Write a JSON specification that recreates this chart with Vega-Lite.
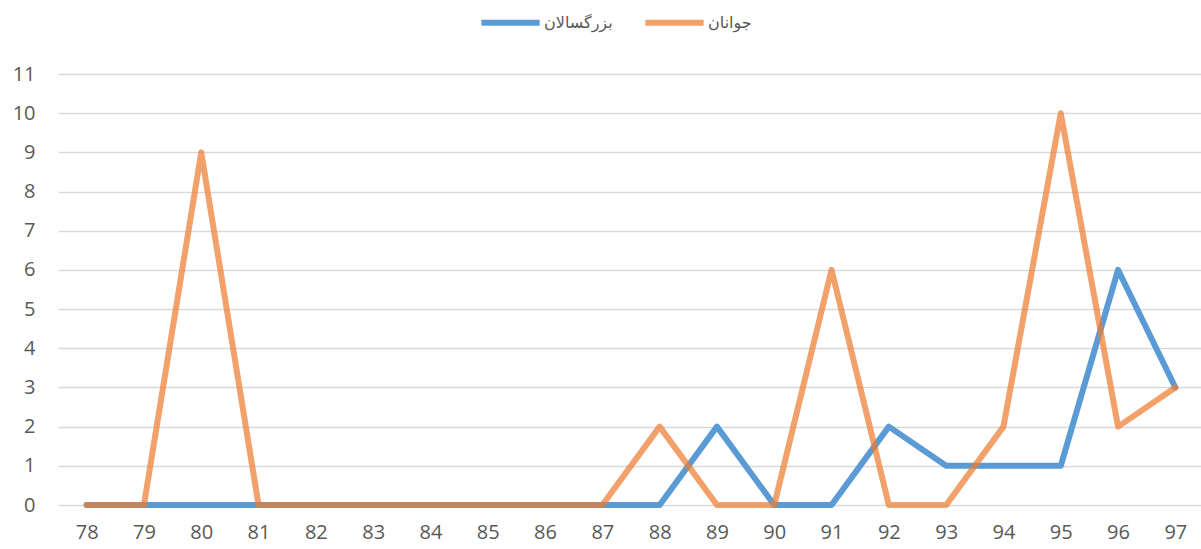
{
  "$schema": "https://vega.github.io/schema/vega-lite/v6.json",
  "width": 1146,
  "height": 431,
  "autosize": {"type": "none"},
  "padding": {"left": 58, "top": 74, "right": 0, "bottom": 44},
  "background": "white",
  "data": {
    "values": [
      {"year": "78", "s": "بزرگسالان", "v": 0},
      {"year": "79", "s": "بزرگسالان", "v": 0},
      {"year": "80", "s": "بزرگسالان", "v": 0},
      {"year": "81", "s": "بزرگسالان", "v": 0},
      {"year": "82", "s": "بزرگسالان", "v": 0},
      {"year": "83", "s": "بزرگسالان", "v": 0},
      {"year": "84", "s": "بزرگسالان", "v": 0},
      {"year": "85", "s": "بزرگسالان", "v": 0},
      {"year": "86", "s": "بزرگسالان", "v": 0},
      {"year": "87", "s": "بزرگسالان", "v": 0},
      {"year": "88", "s": "بزرگسالان", "v": 0},
      {"year": "89", "s": "بزرگسالان", "v": 2},
      {"year": "90", "s": "بزرگسالان", "v": 0},
      {"year": "91", "s": "بزرگسالان", "v": 0},
      {"year": "92", "s": "بزرگسالان", "v": 2},
      {"year": "93", "s": "بزرگسالان", "v": 1},
      {"year": "94", "s": "بزرگسالان", "v": 1},
      {"year": "95", "s": "بزرگسالان", "v": 1},
      {"year": "96", "s": "بزرگسالان", "v": 6},
      {"year": "97", "s": "بزرگسالان", "v": 3},
      {"year": "78", "s": "جوانان", "v": 0},
      {"year": "79", "s": "جوانان", "v": 0},
      {"year": "80", "s": "جوانان", "v": 9},
      {"year": "81", "s": "جوانان", "v": 0},
      {"year": "82", "s": "جوانان", "v": 0},
      {"year": "83", "s": "جوانان", "v": 0},
      {"year": "84", "s": "جوانان", "v": 0},
      {"year": "85", "s": "جوانان", "v": 0},
      {"year": "86", "s": "جوانان", "v": 0},
      {"year": "87", "s": "جوانان", "v": 0},
      {"year": "88", "s": "جوانان", "v": 2},
      {"year": "89", "s": "جوانان", "v": 0},
      {"year": "90", "s": "جوانان", "v": 0},
      {"year": "91", "s": "جوانان", "v": 6},
      {"year": "92", "s": "جوانان", "v": 0},
      {"year": "93", "s": "جوانان", "v": 0},
      {"year": "94", "s": "جوانان", "v": 2},
      {"year": "95", "s": "جوانان", "v": 10},
      {"year": "96", "s": "جوانان", "v": 2},
      {"year": "97", "s": "جوانان", "v": 3}
    ]
  },
  "mark": {"type": "line", "strokeWidth": 6, "strokeCap": "round", "strokeJoin": "round"},
  "encoding": {
    "x": {
      "field": "year", "type": "ordinal",
      "scale": {"type": "point", "padding": 0.5},
      "axis": {"title": null, "domain": false, "ticks": false, "labelAngle": 0, "labelFontSize": 20, "labelColor": "#595959", "labelFont": "Open Sans", "labelPadding": 17, "grid": false}
    },
    "y": {
      "field": "v", "type": "quantitative",
      "scale": {"domain": [0, 11], "nice": false},
      "axis": {"title": null, "domain": false, "ticks": false, "values": [0,1,2,3,4,5,6,7,8,9,10,11], "labelFontSize": 20, "labelColor": "#595959", "labelFont": "Open Sans", "labelPadding": 23, "gridColor": "#D9D9D9", "gridWidth": 1.5}
    },
    "color": {
      "field": "s", "type": "nominal",
      "scale": {"domain": ["بزرگسالان", "جوانان"], "range": ["#5B9BD5", "#ED7D31"]},
      "legend": {
        "title": null, "orient": "none", "direction": "horizontal",
        "legendX": 420, "legendY": -84,
        "symbolType": "stroke", "symbolSize": 3400, "symbolStrokeWidth": 6,
        "labelFontSize": 16, "labelColor": "#595959", "labelFont": "DejaVu Sans",
        "columnPadding": 20, "labelOffset": 1
      }
    },
    "opacity": {
      "field": "s", "type": "nominal",
      "scale": {"domain": ["بزرگسالان", "جوانان"], "range": [1, 0.72]},
      "legend": null
    },
    "order": {"field": "s"}
  },
  "config": {"view": {"stroke": null}}
}
